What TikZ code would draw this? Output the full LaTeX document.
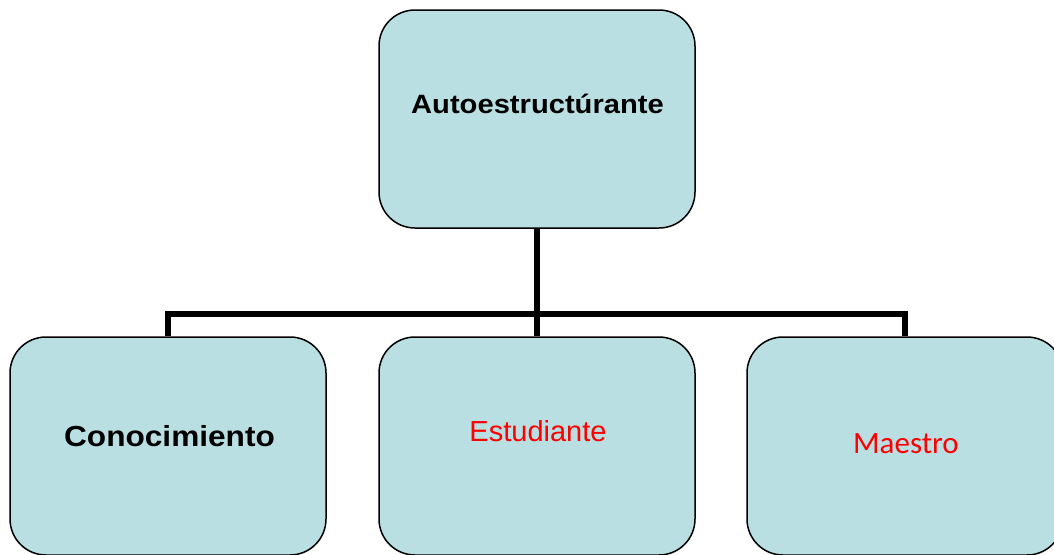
\documentclass[tikz,border=0pt]{standalone}
\usepackage{fontspec}
\setmainfont{Liberation Sans}
\newfontfamily\calibrifont{Carlito}
\usepackage{graphicx}
\definecolor{boxfill}{RGB}{185,223,227}
\definecolor{redtext}{RGB}{255,0,0}
\tikzset{
  conceptbox/.style={draw=black, line width=1.5pt, fill=boxfill, rounded corners=36pt,
    minimum width=316pt, minimum height=218pt, inner sep=0pt},
  boldlabel/.style={anchor=base, inner sep=0pt, text=black, font=\bfseries},
  redlabel/.style={anchor=base, inner sep=0pt, text=redtext},
  connector/.style={line width=5.5pt, draw=black}
}
\begin{document}
\begin{tikzpicture}[x=1pt,y=-1pt]
\useasboundingbox (0,0) rectangle (1054,554);
% boxes
\node[conceptbox] (top) at (537,119) {};
\node[conceptbox] (conoc) at (168,446) {};
\node[conceptbox] (estud) at (537,446) {};
\node[conceptbox] (maes) at (905,446) {};
% connectors
\coordinate (mid) at (537,314);
\draw[connector] (top.south) -- (mid);
\draw[connector] (mid) -| (conoc.north);
\draw[connector] (mid) -- (estud.north);
\draw[connector] (mid) -| (maes.north);
% texts
\node[boldlabel] (t1) at (537.5,113) {\fontsize{26.5pt}{30pt}\selectfont\scalebox{1.1}[1]{Autoestructúrante}};
\node[boldlabel] (t2) at (169.5,446) {\fontsize{29pt}{33pt}\selectfont\scalebox{1.09}[1]{Conocimiento}};
\node[redlabel] (t3) at (538,441) {\fontsize{29pt}{34pt}\selectfont Estudiante};
\node[redlabel] (t4) at (906,453) {\calibrifont\fontsize{31pt}{36pt}\selectfont Maestro};
\end{tikzpicture}
\end{document}
